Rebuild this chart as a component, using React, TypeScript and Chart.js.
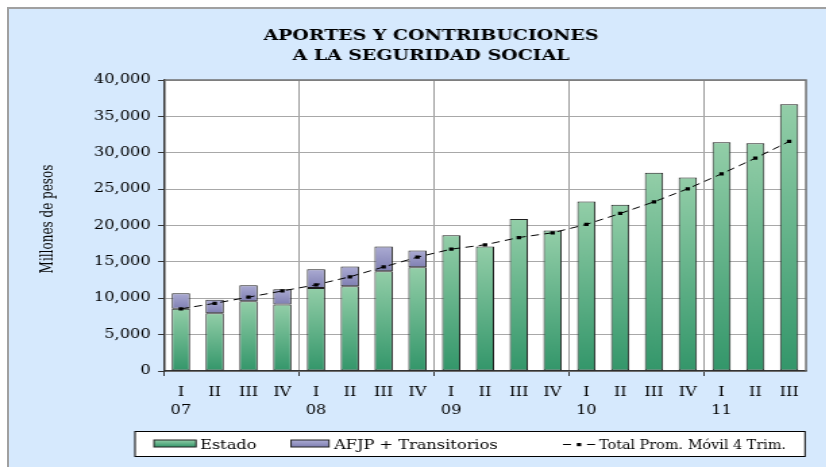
import React, { useEffect, useRef } from 'react';
import { Chart, registerables } from 'chart.js';
Chart.register(...registerables);

// ---- data ----
const quarters = ['I', 'II', 'III', 'IV', 'I', 'II', 'III', 'IV', 'I', 'II', 'III', 'IV', 'I', 'II', 'III', 'IV', 'I', 'II', 'III'];
const years = ['07', '08', '09', '10', '11'];
const estado = [8550, 7950, 9600, 9150, 11400, 11650, 13700, 14250, 18650, 17100, 20900, 19300, 23300, 22850, 27250, 26600, 31450, 31300, 36650];
const afjp = [2150, 1850, 2200, 2100, 2600, 2700, 3400, 2300, null, null, null, null, null, null, null, null, null, null, null];
const promMovil = [8550, 9300, 10150, 11000, 11850, 12950, 14300, 15650, 16750, 17350, 18350, 19000, 20150, 21650, 23250, 25050, 27100, 29250, 31550];
const yMin = 0;
const yMax = 40000;
const yStep = 5000;
const titleLines = ['APORTES Y CONTRIBUCIONES', 'A LA SEGURIDAD SOCIAL'];
const yTitle = 'Millones de pesos';
const legendLabels = ['Estado', 'AFJP + Transitorios', 'Total Prom. Móvil 4 Trim.'];

// ---- layout ----
const W = 826;
const H = 467;
const S = 1.35; // horizontal stretch of the original picture
const CW = Math.round(W / S);
const fx = (x: number) => x / S;
const SERIF = '"DejaVu Serif", serif';

const labels = quarters.map((q, i) => (i % 4 === 0 ? [q, years[i / 4]] : q));

const GREEN_TOP = '#93cea8';
const GREEN_BOT = '#33966a';
const PURP_TOP = '#ababd3';
const PURP_BOT = '#7f7fb2';

function grad(ctx: CanvasRenderingContext2D, top: number, bottom: number, c1: string, c2: string) {
  if (!isFinite(top) || !isFinite(bottom) || Math.abs(bottom - top) < 0.5) return c2;
  const g = ctx.createLinearGradient(0, top, 0, bottom);
  g.addColorStop(0, c1);
  g.addColorStop(1, c2);
  return g;
}

const decorPlugin = {
  id: 'decor',
  beforeDraw(chart: any) {
    const { ctx, chartArea: a } = chart;
    ctx.save();
    ctx.fillStyle = '#ffffff';
    ctx.fillRect(a.left, a.top, a.right - a.left, a.bottom - a.top);
    ctx.restore();
  },
  afterDraw(chart: any) {
    const { ctx, chartArea: a } = chart;
    ctx.save();
    // plot border top/right
    ctx.strokeStyle = '#707070';
    ctx.lineWidth = 1.5;
    ctx.beginPath();
    ctx.moveTo(a.left, a.top);
    ctx.lineTo(a.right, a.top);
    ctx.lineTo(a.right, a.bottom);
    ctx.stroke();

    // title
    ctx.fillStyle = '#000';
    ctx.font = `bold 14px ${SERIF}`;
    ctx.textAlign = 'center';
    ctx.textBaseline = 'alphabetic';
    ctx.fillText(titleLines[0], fx(431), 40);
    ctx.fillText(titleLines[1], fx(431), 60);

    // y axis title
    ctx.save();
    ctx.translate(fx(48), 219);
    ctx.rotate(-Math.PI / 2);
    ctx.font = `12px ${SERIF}`;
    ctx.textAlign = 'center';
    ctx.textBaseline = 'middle';
    ctx.fillText(yTitle, 0, 0, 118);
    ctx.restore();

    // legend box
    const bx = fx(135), by = 431, bw = fx(805) - fx(135), bh = 25;
    ctx.fillStyle = '#ffffff';
    ctx.fillRect(bx, by, bw, bh);
    ctx.strokeStyle = '#000';
    ctx.lineWidth = 1;
    ctx.strokeRect(bx, by + 0.5, bw, bh);

    const sy = 440, sh = 7;
    // green swatch
    ctx.fillStyle = grad(ctx, sy, sy + sh, GREEN_TOP, GREEN_BOT);
    ctx.fillRect(fx(154), sy, fx(196) - fx(154), sh);
    ctx.strokeStyle = '#222';
    ctx.strokeRect(fx(154), sy, fx(196) - fx(154), sh);
    // purple swatch
    ctx.fillStyle = grad(ctx, sy, sy + sh, PURP_TOP, PURP_BOT);
    ctx.fillRect(fx(291), sy, fx(329) - fx(291), sh);
    ctx.strokeRect(fx(291), sy, fx(329) - fx(291), sh);
    // line swatch
    ctx.strokeStyle = '#000';
    ctx.lineWidth = 1;
    ctx.beginPath();
    ctx.moveTo(fx(563), 444.5); ctx.lineTo(fx(571), 444.5);
    ctx.moveTo(fx(587), 444.5); ctx.lineTo(fx(595), 444.5);
    ctx.stroke();
    ctx.fillStyle = '#000';
    ctx.fillRect(fx(579) - 1.6, 443, 3.2, 3.2);

    ctx.font = `12px ${SERIF}`;
    ctx.textAlign = 'left';
    ctx.textBaseline = 'alphabetic';
    ctx.fillStyle = '#000';
    ctx.fillText(legendLabels[0], fx(200), 448.5, fx(257) - fx(200));
    ctx.fillText(legendLabels[1], fx(334), 448.5, fx(498) - fx(334));
    ctx.fillText(legendLabels[2], fx(599), 448.5, fx(786) - fx(599));
    ctx.restore();
  },
};

export default function App() {
  const ref = useRef<HTMLCanvasElement>(null);

  useEffect(() => {
    const canvas = ref.current;
    if (!canvas) return;
    const chart = new Chart(canvas, {
      type: 'bar',
      data: {
        labels,
        datasets: [
          {
            type: 'line',
            label: legendLabels[2],
            data: promMovil,
            borderColor: '#000',
            borderWidth: 1,
            borderDash: [6, 4],
            pointStyle: 'rect',
            pointRadius: 2.3,
            pointBackgroundColor: '#000',
            pointBorderColor: '#000',
            pointBorderWidth: 0,
            fill: false,
            tension: 0,
            stack: 'ma',
            order: 0,
          } as any,
          {
            type: 'bar',
            label: legendLabels[0],
            data: estado,
            stack: 'total',
            order: 1,
            borderColor: '#1e1e1e',
            borderWidth: 1,
            borderSkipped: false,
            barPercentage: 1,
            categoryPercentage: 0.54,
            backgroundColor: (c: any) => {
              const ys = c.chart.scales?.y;
              if (!ys || c.dataIndex == null) return GREEN_TOP;
              const i = c.dataIndex;
              return grad(c.chart.ctx, ys.getPixelForValue(estado[i]), ys.getPixelForValue(0), GREEN_TOP, GREEN_BOT);
            },
          },
          {
            type: 'bar',
            label: legendLabels[1],
            data: afjp,
            stack: 'total',
            order: 1,
            borderColor: '#1e1e1e',
            borderWidth: 1,
            borderSkipped: false,
            barPercentage: 1,
            categoryPercentage: 0.54,
            backgroundColor: (c: any) => {
              const ys = c.chart.scales?.y;
              if (!ys || c.dataIndex == null) return PURP_TOP;
              const i = c.dataIndex;
              const v = afjp[i] || 0;
              return grad(c.chart.ctx, ys.getPixelForValue(estado[i] + v), ys.getPixelForValue(estado[i]), PURP_TOP, PURP_BOT);
            },
          },
        ],
      },
      options: {
        responsive: false,
        animation: false,
        devicePixelRatio: 1,
        layout: { padding: { left: 0, right: CW - fx(806), top: 80, bottom: 0 } },
        plugins: {
          legend: { display: false },
          title: { display: false },
          tooltip: { enabled: false },
        },
        scales: {
          x: {
            type: 'category',
            stacked: true,
            offset: true,
            grid: {
              offset: true,
              drawOnChartArea: true,
              color: (c: any) => (typeof c.index === 'number' && c.index % 4 === 0 ? '#9a9a9a' : 'rgba(0,0,0,0)'),
              tickColor: (c: any) => (typeof c.index === 'number' && c.index % 4 === 0 ? '#333' : 'rgba(0,0,0,0)'),
              lineWidth: 1,
              tickLength: 5,
            },
            border: { display: true, color: '#333', width: 1.5 },
            ticks: {
              color: '#000',
              font: { family: SERIF, size: 12, lineHeight: 1.5 },
              padding: 8,
              maxRotation: 0,
              minRotation: 0,
              autoSkip: false,
            },
            afterFit: (s: any) => { s.height = H - 371; },
          } as any,
          y: {
            stacked: true,
            min: yMin,
            max: yMax,
            grid: {
              color: '#a8a8a8',
              lineWidth: 1,
              tickColor: '#333',
              tickLength: 4.4,
            },
            border: { display: true, color: '#333', width: 1.5 },
            ticks: {
              stepSize: yStep,
              color: '#000',
              font: { family: SERIF, size: 12 },
              padding: 5.5,
              callback: (v: any) => Number(v).toLocaleString('en-US'),
            },
            afterFit: (s: any) => { s.width = fx(164); },
          } as any,
        },
      },
      plugins: [decorPlugin],
    });
    return () => chart.destroy();
  }, []);

  return (
    <div style={{ position: 'fixed', left: 0, top: 0, width: W, height: H, overflow: 'hidden', background: '#ffffff' }}>
      <div
        style={{
          position: 'absolute',
          left: 7,
          top: 7,
          width: W,
          height: H,
          background: '#d6e9fd',
          borderLeft: '2px solid #a0a0a0',
          borderTop: '2px solid #a0a0a0',
        }}
      />
      <div style={{ position: 'absolute', left: 0, top: 0, width: CW, height: H, transform: `scaleX(${S})`, transformOrigin: '0 0' }}>
        <canvas ref={ref} width={CW} height={H} style={{ display: 'block', width: CW, height: H }} />
      </div>
    </div>
  );
}
